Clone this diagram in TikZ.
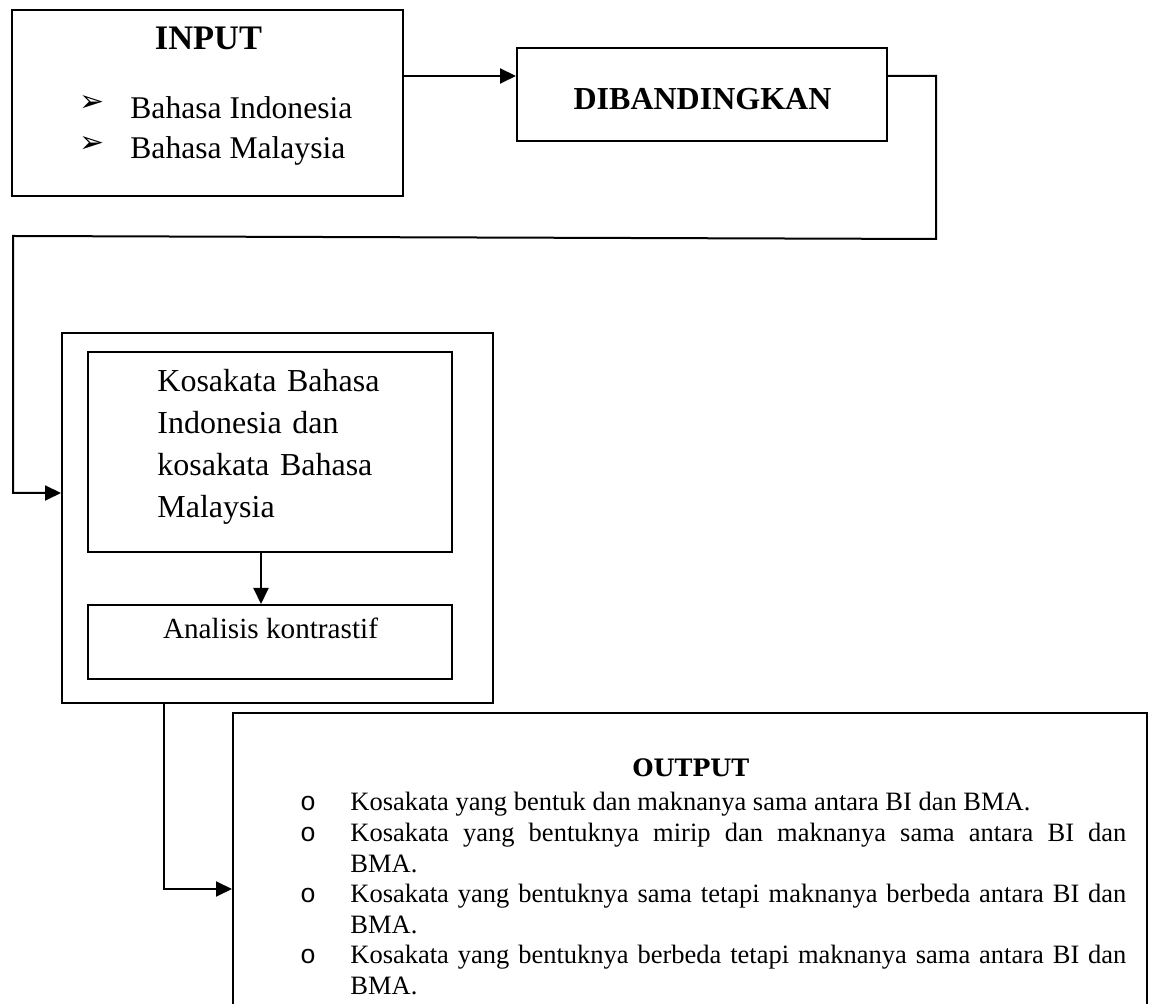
\documentclass[tikz,border=0pt]{standalone}
\usepackage{fontspec}
\setmainfont{Liberation Serif}
\newfontfamily\dingfont{DejaVu Sans}
\newfontfamily\titlefont{DejaVu Serif}
\newfontfamily\circfont{Liberation Mono}
\usetikzlibrary{arrows.meta, positioning, calc}

\begin{document}
\begin{tikzpicture}[x=0.5pt, y=-0.5pt,
  box/.style={rectangle, draw=black, line width=1pt, inner sep=0pt},
  txt/.style={inner sep=0pt},
  arrow/.style={-{Triangle[length=8pt, width=7.5pt]}, line width=1pt}
]
\useasboundingbox (0,0) rectangle (1152,1004);
\clip (0,0) rectangle (1152,1004);

% input and comparison
\node[box, minimum width=195.5pt, minimum height=93pt] (input) at (207.5,103) {};
\node[txt, anchor=base, font=\fontsize{17.2}{20}\selectfont\bfseries] (inputtitle) at (208.5,50) {INPUT};
\node[txt, font=\dingfont\fontsize{15}{18}\selectfont] (dot1) at (92,104) {➢};
\node[txt, anchor=base west, font=\fontsize{15.8}{19}\selectfont] (bindo) at (130,119) {Bahasa Indonesia};
\node[txt, font=\dingfont\fontsize{15}{18}\selectfont] (dot2) at (92,144.5) {➢};
\node[txt, anchor=base west, font=\fontsize{15.8}{19}\selectfont] (bmalay) at (130,159) {Bahasa Malaysia};

\node[box, minimum width=185pt, minimum height=46.5pt] (dib) at (702,94.5) {};
\node[txt, anchor=base, font=\fontsize{16}{19}\selectfont\bfseries] (dibtext) at (702.5,110) {DIBANDINGKAN};

% process
\node[box, minimum width=215.5pt, minimum height=185pt] (outer) at (277.5,518) {};
\node[box, minimum width=182pt, minimum height=100pt] (kosa) at (270,452) {};
\node[box, minimum width=182pt, minimum height=37pt, below=25.5pt of kosa] (analisis) {};
\node[txt, anchor=base west, text width=150pt, align=left,
  font=\fontsize{16}{21}\selectfont] (kosatext) at (157,392)
  {Kosakata Bahasa\\Indonesia dan\\kosakata Bahasa\\Malaysia};
\node[txt, anchor=base, font=\fontsize{14.6}{18}\selectfont] (analisistext) at (270.5,639) {Analisis kontrastif};

% output
\node[box, minimum width=457pt, minimum height=163.5pt] (output) at (690,876.5) {};
\node[txt, anchor=base, font=\titlefont\fontsize{12}{14}\selectfont\bfseries] (outtitle) at (691,777) {OUTPUT};
\node[txt, anchor=base west, text width=388pt, align=justify,
  font=\fontsize{13.25}{15.3}\selectfont] (outlist) at (350,811)
  {\hyphenpenalty=10000\relax
   Kosakata yang bentuk dan maknanya sama antara BI dan BMA.\par
   Kosakata yang bentuknya mirip dan maknanya sama antara BI dan\linebreak BMA.\par
   Kosakata yang bentuknya sama tetapi maknanya berbeda antara BI dan\linebreak BMA.\par
   Kosakata yang bentuknya berbeda tetapi maknanya sama antara BI dan\linebreak BMA.};
\node[txt, anchor=base, font=\circfont\fontsize{13.25}{15}\selectfont] (o1) at (308,811) {o};
\node[txt, anchor=base, font=\circfont\fontsize{13.25}{15}\selectfont] (o2) at (308,841.6) {o};
\node[txt, anchor=base, font=\circfont\fontsize{13.25}{15}\selectfont] (o3) at (308,902.8) {o};
\node[txt, anchor=base, font=\circfont\fontsize{13.25}{15}\selectfont] (o4) at (308,964) {o};

% connectors
\coordinate (dibin) at ([yshift=9.25pt]dib.west);
\coordinate (dibout) at ([yshift=9.25pt]dib.east);
\coordinate (turnr) at (936,239);
\coordinate (turnl) at (13,236);
\coordinate (outerin) at ([yshift=12.5pt]outer.west);
\coordinate (outerout) at ([xshift=-57pt]outer.south);
\coordinate (outin) at ([yshift=-6.25pt]output.west);
\draw[arrow] (dibin -| input.east) -- (dibin);
\draw[arrow] (dibout) -| (turnr) -- (turnl) |- (outerin);
\draw[arrow] ([xshift=-4.5pt]kosa.south) -- ([xshift=-4.5pt]analisis.north);
\draw[arrow] (outerout) |- (outin);
\end{tikzpicture}
\end{document}
